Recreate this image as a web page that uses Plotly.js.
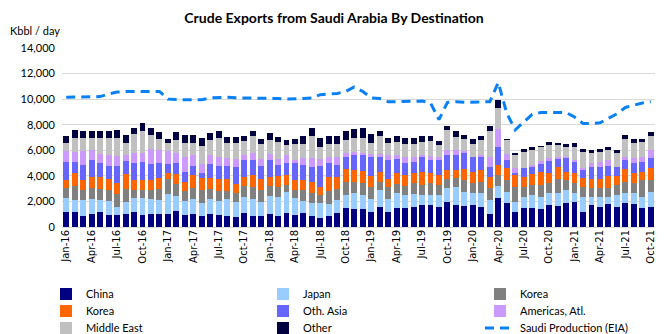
<!DOCTYPE html>
<html>
<head>
<meta charset="utf-8">
<script src="https://cdn.plot.ly/plotly-3.0.1.min.js"></script>
<style>html,body{margin:0;padding:0;background:#fff;}#chart{width:668px;height:334px;}</style>
</head>
<body>
<div id="chart"></div>
<script>
const months = ["Jan-16","Feb-16","Mar-16","Apr-16","May-16","Jun-16","Jul-16","Aug-16","Sep-16","Oct-16","Nov-16","Dec-16",
"Jan-17","Feb-17","Mar-17","Apr-17","May-17","Jun-17","Jul-17","Aug-17","Sep-17","Oct-17","Nov-17","Dec-17",
"Jan-18","Feb-18","Mar-18","Apr-18","May-18","Jun-18","Jul-18","Aug-18","Sep-18","Oct-18","Nov-18","Dec-18",
"Jan-19","Feb-19","Mar-19","Apr-19","May-19","Jun-19","Jul-19","Aug-19","Sep-19","Oct-19","Nov-19","Dec-19",
"Jan-20","Feb-20","Mar-20","Apr-20","May-20","Jun-20","Jul-20","Aug-20","Sep-20","Oct-20","Nov-20","Dec-20",
"Jan-21","Feb-21","Mar-21","Apr-21","May-21","Jun-21","Jul-21","Aug-21","Sep-21","Oct-21"];

const tickLabels = ["Jan-16","Apr-16","Jul-16","Oct-16","Jan-17","Apr-17","Jul-17","Oct-17","Jan-18","Apr-18","Jul-18","Oct-18",
"Jan-19","Apr-19","Jul-19","Oct-19","Jan-20","Apr-20","Jul-20","Oct-20","Jan-21","Apr-21","Jul-21","Oct-21"];

const china = [1200,1200,860,1040,1200,910,910,1040,1170,940,990,1000,
990,1250,940,1040,860,990,940,860,810,1070,860,860,
1020,860,1070,940,1070,860,680,860,1070,1460,1380,1380,
1200,1590,1200,1460,1460,1590,1720,1720,1590,1980,1720,1640,
1720,1590,1020,2290,1900,1200,1460,1460,1380,1720,1670,1850,
1980,1200,1720,1540,1800,1590,1850,1800,1460,1590];

const japan = [1040,940,1220,1120,880,1120,680,910,1070,1300,1170,1150,
1560,1170,1090,1120,1040,1170,1090,1300,1170,1250,1300,1120,
1410,1510,1690,1300,990,990,1170,940,1040,1040,1300,1120,
960,1300,960,1170,1040,990,780,780,910,1040,1380,1120,
910,1040,1090,910,860,780,910,1040,990,910,1020,1040,
650,1120,600,830,570,910,780,890,910,1170];

const koreaGray = [780,1040,780,860,910,830,960,990,680,680,760,800,
1170,910,780,910,960,780,780,650,650,890,940,910,
780,780,520,650,830,830,650,1040,830,1040,860,960,
940,650,990,730,700,830,780,910,780,700,700,910,
830,910,910,860,910,1120,730,780,910,780,1040,780,
780,780,700,650,650,780,910,730,1300,910];

const koreaOrange = [650,1010,810,890,920,920,860,1200,780,780,780,850,
520,830,730,990,940,910,910,910,730,680,960,860,
730,830,780,780,780,860,650,1090,990,960,910,910,
890,780,570,830,860,780,1040,780,780,730,650,830,
860,910,910,780,910,960,830,860,1040,780,940,650,
780,700,700,700,960,700,960,780,650,910];

const othAsia = [1410,890,1200,1300,1090,960,1380,1020,1300,1350,1200,1200,
650,860,780,700,440,1040,1040,1040,1350,1350,1170,1020,
1300,860,960,1300,1170,1170,1610,1040,910,960,1170,1250,
1510,1120,1510,1090,960,910,1120,1040,1170,1170,1170,1250,
1120,1040,780,1440,650,130,650,520,600,990,630,1040,
910,650,940,990,780,680,730,780,780,780];

const americas = [860,780,1070,830,730,890,730,440,760,760,1170,1000,
1040,780,1150,910,700,730,700,600,600,390,520,520,
440,440,600,260,520,650,520,520,650,310,260,180,
200,260,390,340,470,390,180,300,260,440,390,210,
50,130,780,1350,470,390,50,180,260,180,210,130,
130,130,310,390,470,50,260,390,390,700];

const middleEast = [650,1070,990,960,1200,1350,1460,960,1530,1690,1140,850,
650,1040,1120,910,1380,1220,1510,1220,1280,1090,1350,1200,
1120,1380,780,1300,1170,1740,940,1040,1040,1070,1120,1200,
890,1410,960,1040,1040,1040,1040,1200,910,1510,1040,910,
1040,1170,2030,1640,1090,1090,1250,1170,1040,1040,910,730,
990,1300,830,760,830,1090,1430,1220,1170,1040];

const other = [520,650,540,470,570,550,620,630,420,600,500,570,
340,600,600,650,650,500,520,440,470,390,390,390,
520,390,390,340,570,680,780,570,600,650,700,760,
680,390,420,440,440,440,440,400,340,310,440,310,
340,310,360,650,130,130,260,210,100,260,130,310,
360,210,210,210,210,260,260,260,260,340];

const saudiProduction = [10150,10150,10150,10150,10200,10400,10550,10600,10600,10550,10600,10600,
10000,9950,9950,9950,9950,10100,10150,10150,10100,10100,10100,10050,
10100,10050,10000,10000,10050,10100,10350,10400,10450,10600,10950,10600,
10100,10050,9800,9800,9800,9850,9850,9700,8400,9750,9800,9750,
9750,9750,9800,11300,8900,7600,8200,8800,8950,8950,8950,8950,
8600,8100,8100,8150,8500,8850,9350,9550,9700,9800];

const seriesNames = ["China","Japan","Korea","Korea","Oth. Asia","Americas, Atl.","Middle East","Other"];
const seriesValues = [china, japan, koreaGray, koreaOrange, othAsia, americas, middleEast, other];
const seriesColors = ["#000080","#99CCFF","#808080","#FF6600","#6666FF","#CC99FF","#C0C0C0","#000040"];
// legend row of each entry, and its column width
const legendRows = ["legend","legend","legend","legend2","legend2","legend2","legend3","legend3"];
const legendWidths = [172,172,130,172,172,130,172,172];

const traces = seriesValues.map((vals, i) => ({
  type: "bar",
  x: months,
  y: vals,
  name: seriesNames[i],
  legend: legendRows[i],
  legendwidth: legendWidths[i],
  marker: {color: seriesColors[i], line: {width: 0}},
  hoverinfo: "skip"
}));

traces.push({
  type: "scatter",
  mode: "lines",
  x: months,
  y: saudiProduction,
  name: "Saudi Production (EIA)",
  legend: "legend3",
  legendwidth: 130,
  line: {color: "#0A80F5", width: 3, dash: "9px,6px"},
  hoverinfo: "skip"
});

function legendRow(yPos) {
  return {
    orientation: "h",
    x: -0.027, xanchor: "left",
    y: yPos, yanchor: "middle",
    traceorder: "normal",
    entrywidthmode: "pixels",
    font: {family: "Lato, 'Open Sans', sans-serif", size: 11, color: "#000000"},
    tracegroupgap: 0,
    itemwidth: 30,
    bgcolor: "rgba(0,0,0,0)"
  };
}

const layout = {
  width: 668,
  height: 334,
  margin: {l: 62, r: 13, t: 48, b: 107, autoexpand: false},
  paper_bgcolor: "#ffffff",
  plot_bgcolor: "#ffffff",
  barmode: "stack",
  bargap: 0.3,
  showlegend: true,
  title: {
    text: "<b>Crude Exports from Saudi Arabia By Destination</b>",
    x: 0.5, xref: "container", xanchor: "center",
    y: 0.946, yref: "container", yanchor: "middle",
    font: {family: "Lato, 'Open Sans', sans-serif", size: 14, color: "#000000"}
  },
  font: {family: "Lato, 'Open Sans', sans-serif", size: 11, color: "#000000"},
  xaxis: {
    type: "category",
    tickmode: "array",
    tickvals: tickLabels,
    ticktext: tickLabels,
    tickangle: -90,
    tickfont: {family: "'DejaVu Sans', sans-serif", size: 10, color: "#000000"},
    showgrid: false,
    showline: false,
    ticks: "",
    zeroline: false
  },
  yaxis: {
    range: [0, 14000],
    tickmode: "linear",
    tick0: 0,
    dtick: 2000,
    tickformat: ",d",
    showgrid: true,
    gridcolor: "#D9D9D9",
    gridwidth: 1,
    zeroline: true,
    zerolinecolor: "#D9D9D9",
    showline: false,
    ticks: "",
    ticklabelstandoff: 6,
    tickfont: {family: "Lato, 'Open Sans', sans-serif", size: 11, color: "#000000"}
  },
  legend: legendRow(-0.374),
  legend2: legendRow(-0.469),
  legend3: legendRow(-0.564),
  annotations: [{
    text: "Kbbl / day",
    xref: "paper", yref: "paper",
    x: -0.091, xanchor: "left",
    y: 1.10, yanchor: "middle",
    showarrow: false,
    font: {family: "Lato, 'Open Sans', sans-serif", size: 11, color: "#000000"}
  }]
};

Plotly.newPlot("chart", traces, layout, {staticPlot: true, displayModeBar: false});
</script>
</body>
</html>
